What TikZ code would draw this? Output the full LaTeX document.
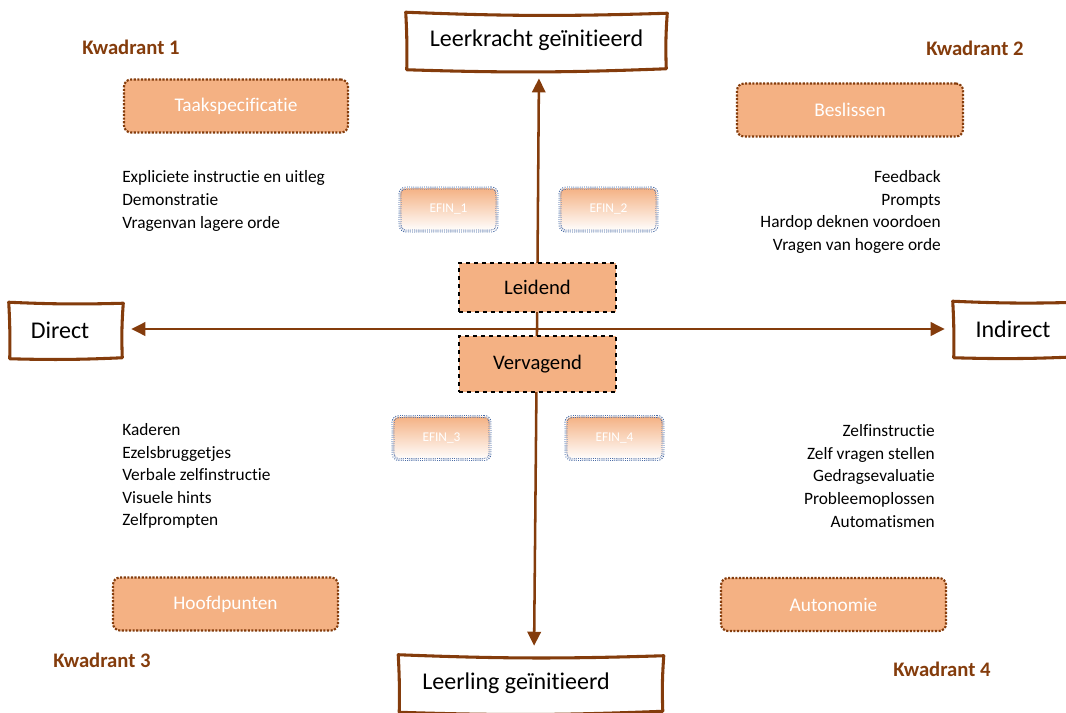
\documentclass[tikz,border=0pt]{standalone}
\usepackage{fontspec}
\setmainfont{Carlito}[RawFeature={-liga;-clig;-calt;-dlig}]
\usetikzlibrary{arrows.meta,calc}

\newlength{\du}
\setlength{\du}{0.75pt}

\definecolor{axisbrown}{HTML}{843C0C}
\definecolor{boxorange}{HTML}{F4B183}
\definecolor{efinblue}{HTML}{2F5597}

\tikzset{
  sketchlabel/.style={fill=white,inner sep=0pt,font=\fontsize{18}{21}\selectfont},
  sketchline/.style={draw=axisbrown,line width=2.3pt,line join=round,line cap=round},
  axisline/.style={draw=axisbrown,line width=1.9pt,-{Triangle[length=10.5pt,width=10pt]},color=axisbrown},
  rolebox/.style={fill=boxorange,draw=black,dashed,line width=0.8pt,minimum width=157\du,inner sep=0pt,font=\fontsize{15.5}{18}\selectfont},
  efinbox/.style={rounded corners=6\du,draw=efinblue,densely dotted,double=white,double distance=1pt,line width=0.6pt,
    top color=boxorange,bottom color=white,minimum width=97\du,minimum height=43\du,inner sep=0pt,
    text=white,font=\fontsize{10}{12}\selectfont},
  kwadbox/.style={rounded corners=7\du,fill=boxorange,draw=axisbrown,line width=1.6pt,dash pattern=on 1.6pt off 1.1pt,
    minimum width=225\du,minimum height=53\du,inner sep=0pt,text=white,font=\fontsize{14.5}{17}\selectfont},
  kwadlabel/.style={text=axisbrown,font=\bfseries\fontsize{15.5}{18}\selectfont},
  techlist/.style={inner sep=0pt,font=\fontsize{13}{16.9}\selectfont}
}

\newcommand{\sketchbox}[1]{%
  \draw[sketchline] ([shift={(-2\du,-1\du)}]#1.north west) to[bend left=2] ([shift={(2\du,0\du)}]#1.north east)
    to[bend left=3] ([shift={(1\du,1\du)}]#1.south east) to[bend right=2] ([shift={(-1\du,2\du)}]#1.south west)
    to[bend left=2] ([shift={(-2\du,-1\du)}]#1.north west) -- cycle;}

\begin{document}
\begin{tikzpicture}
\pgftransformxscale{1.000000}
\pgftransformyscale{-1.000000}
\useasboundingbox (0\du,0\du) rectangle (1066\du,713\du);

% end points of the two axes
\node[sketchlabel,minimum width=257\du,minimum height=54\du] (leerkracht) at (536.5\du,40.5\du){Leerkracht geïnitieerd};
\sketchbox{leerkracht}
\node[sketchlabel,minimum width=261\du,minimum height=54\du] (leerling) at (531\du,683\du){Leerling geïnitieerd\hspace*{30\du}};
\sketchbox{leerling}
\node[sketchlabel,minimum width=110\du,minimum height=53\du] (direct) at (66\du,330\du){Direct\hspace*{12\du}};
\sketchbox{direct}
\node[sketchlabel,minimum width=122\du,minimum height=53\du] (indirect) at (1016\du,329\du){Indirect\hspace*{6\du}};
\sketchbox{indirect}

\coordinate (kruis) at (537\du,329\du);
\draw[axisline,shorten >=8pt] (kruis) -- ([xshift=2.5\du]leerkracht.south);
\draw[axisline,shorten >=7.5pt] (kruis) -- ([xshift=3\du]leerling.north);
\draw[axisline,shorten >=7.5pt] (kruis) -- (direct.east |- kruis);
\draw[axisline,shorten >=7.5pt] (kruis) -- (indirect.west |- kruis);

\node[rolebox,minimum height=49\du] (leidend) at (537.5\du,287.5\du){Leidend};
\node[rolebox,minimum height=56\du] (vervagend) at (537.5\du,364\du){Vervagend};

\node[efinbox] (efin1) at (448.5\du,209.5\du){EFIN\_1};
\node[efinbox] (efin2) at (608.5\du,209.5\du){EFIN\_2};
\node[efinbox] (efin3) at (441.5\du,438\du){EFIN\_3};
\node[efinbox] (efin4) at (614.5\du,438\du){EFIN\_4};

% kwadranten
\node[kwadlabel] (kw1) at (131\du,47\du){Kwadrant 1};
\node[kwadlabel] (kw2) at (975\du,48\du){Kwadrant 2};
\node[kwadlabel] (kw3) at (102\du,660\du){Kwadrant 3};
\node[kwadlabel] (kw4) at (942\du,669\du){Kwadrant 4};

\node[kwadbox,minimum width=224\du] (taak) at (236\du,106\du){Taakspecificatie};
\node[kwadbox,minimum width=226\du] (beslissen) at (850\du,110\du){Beslissen};
\node[kwadbox] (hoofdpunten) at (225.5\du,604\du){Hoofdpunten};
\node[kwadbox] (autonomie) at (833.5\du,604.5\du){Autonomie};

\node[techlist,align=left,anchor=west] (lijst1) at (122\du,201\du){Expliciete instructie en uitleg\\Demonstratie\\Vragenvan lagere orde};
\node[techlist,align=right,anchor=east] (lijst2) at (941\du,212\du){Feedback\\Prompts\\Hardop deknen voordoen\\Vragen van hogere orde};
\node[techlist,align=left,anchor=west] (lijst3) at (122\du,476\du){Kaderen\\Ezelsbruggetjes\\Verbale zelfinstructie\\Visuele hints\\Zelfprompten};
\node[techlist,align=right,anchor=east] (lijst4) at (935\du,476\du){Zelfinstructie\\Zelf vragen stellen\\Gedragsevaluatie\\Probleemoplossen\\Automatismen};
\end{tikzpicture}
\end{document}
